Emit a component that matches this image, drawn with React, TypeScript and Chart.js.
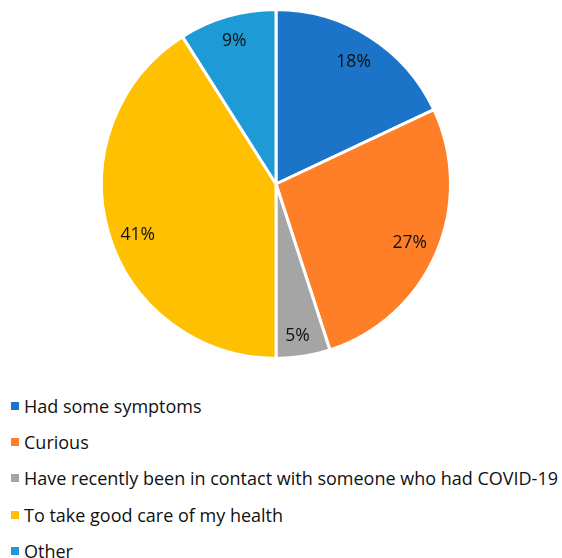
import React, { useEffect, useRef } from "react";
import { Chart, registerables } from "chart.js";

Chart.register(...registerables);

const categories = [
  "Had some symptoms",
  "Curious",
  "Have recently been in contact with someone who had COVID-19",
  "To take good care of my health",
  "Other",
];
const values = [18, 27, 5, 41, 9];
const labelsText = ["18%", "27%", "5%", "41%", "9%"];
const colors = ["#1c74c8", "#fe7f27", "#a5a5a5", "#fec000", "#1e9ad6"];
const labelRadius = [0.83, 0.837, 0.88, 0.845, 0.856];
const labelAngleShift = [0, 0.4, 1, -4, 0];

const FONT = "'Open Sans', sans-serif";

const sliceLabels = {
  id: "sliceLabels",
  afterDatasetsDraw(chart: any) {
    const meta = chart.getDatasetMeta(0);
    const ctx = chart.ctx;
    ctx.save();
    ctx.fillStyle = "#111";
    ctx.font = `17.5px ${FONT}`;
    ctx.textAlign = "center";
    ctx.textBaseline = "middle";
    meta.data.forEach((arc: any, i: number) => {
      const { x, y, startAngle, endAngle, outerRadius } = arc.getProps(
        ["x", "y", "startAngle", "endAngle", "outerRadius"],
        true
      );
      const mid = (startAngle + endAngle) / 2 + (labelAngleShift[i] * Math.PI) / 180;
      const r = outerRadius * labelRadius[i];
      ctx.fillText(labelsText[i], x + Math.cos(mid) * r, y + Math.sin(mid) * r);
    });
    ctx.restore();
  },
};

export default function App() {
  const ref = useRef<HTMLCanvasElement>(null);
  useEffect(() => {
    if (!ref.current) return;
    const chart = new Chart(ref.current, {
      type: "pie",
      data: {
        labels: categories,
        datasets: [
          {
            data: values,
            backgroundColor: colors,
            borderColor: "#ffffff",
            borderWidth: 3,
            hoverOffset: 0,
          },
        ],
      },
      options: {
        animation: false,
        responsive: false,
        maintainAspectRatio: false,
        layout: { padding: { left: 100, right: 110, top: 8, bottom: 10 } },
        plugins: {
          legend: { display: false },
          tooltip: { enabled: false },
        },
      },
      plugins: [sliceLabels],
    });
    return () => chart.destroy();
  }, []);

  return (
    <div
      style={{
        position: "fixed",
        left: 0,
        top: 0,
        width: 562,
        height: 558,
        background: "#fff",
        overflow: "hidden",
        fontFamily: FONT,
      }}
    >
      <canvas
        ref={ref}
        width={562}
        height={370}
        style={{ position: "absolute", left: 0, top: 0, width: 562, height: 370 }}
      />
      {categories.map((c, i) => (
        <div
          key={c}
          style={{
            position: "absolute",
            left: 11,
            top: 406 + i * 36.2 - 12,
            height: 24,
            display: "flex",
            alignItems: "center",
            whiteSpace: "nowrap",
            fontSize: 18,
            color: "#111",
          }}
        >
          <span
            style={{
              display: "inline-block",
              width: 8,
              height: 8,
              background: colors[i],
              marginRight: 5,
            }}
          />
          <span>{c}</span>
        </div>
      ))}
    </div>
  );
}
